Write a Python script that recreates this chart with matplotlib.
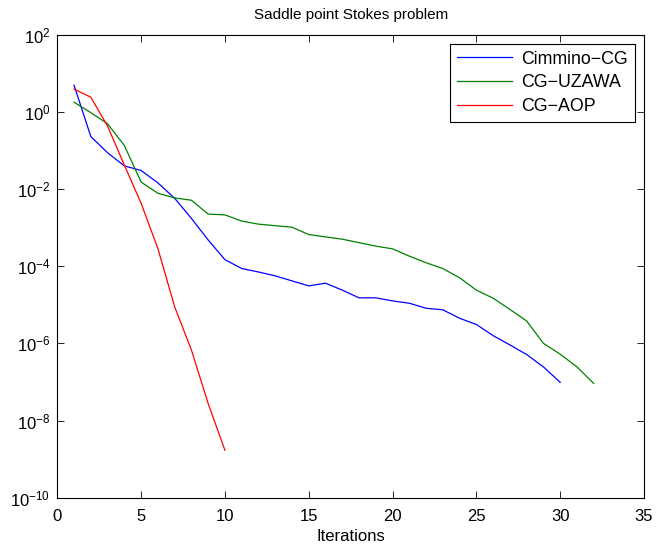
import matplotlib
matplotlib.use("Agg")
import matplotlib.pyplot as plt
import numpy as np

plt.rcParams['font.family'] = ['Liberation Sans', 'DejaVu Sans']
plt.rcParams['mathtext.fontset'] = 'custom'
plt.rcParams['mathtext.rm'] = 'Liberation Sans'
plt.rcParams['mathtext.it'] = 'Liberation Sans:italic'
plt.rcParams['mathtext.default'] = 'regular'

# log10 of residuals
cimmino_iter = list(range(1, 31))
cimmino_log = [0.69, -0.64, -1.06, -1.40, -1.52, -1.84, -2.24, -2.76, -3.32, -3.83,
               -4.06, -4.15, -4.25, -4.38, -4.51, -4.44, -4.62, -4.82, -4.82, -4.90,
               -4.96, -5.09, -5.13, -5.35, -5.51, -5.80, -6.04, -6.29, -6.61, -7.01]

uzawa_iter = list(range(1, 33))
uzawa_log = [0.25, -0.02, -0.31, -0.87, -1.82, -2.11, -2.23, -2.29, -2.65, -2.67,
             -2.83, -2.91, -2.95, -2.99, -3.18, -3.24, -3.30, -3.39, -3.48, -3.55,
             -3.74, -3.91, -4.06, -4.30, -4.62, -4.83, -5.12, -5.42, -6.00, -6.28,
             -6.61, -7.04]

aop_iter = list(range(1, 11))
aop_log = [0.59, 0.38, -0.37, -1.38, -2.37, -3.54, -5.05, -6.17, -7.56, -8.77]

labels = ['Cimmino\u2212CG', 'CG\u2212UZAWA', 'CG\u2212AOP']
colors = ['#0000ff', '#008000', '#ff0000']

fig = plt.figure(figsize=(6.57, 5.52), dpi=100)
ax = fig.add_axes([57.3/657, (552-497.7)/552, (644-57.3)/657, (497.7-34.7)/552])

series = [(cimmino_iter, cimmino_log), (uzawa_iter, uzawa_log), (aop_iter, aop_log)]
for (xs, ls), lab, c in zip(series, labels, colors):
    ax.semilogy(xs, 10.0**np.array(ls), color=c, lw=0.9, label=lab)

ax.set_xlim(0, 35)
ax.set_ylim(1e-10, 1e2)
ax.set_xticks(range(0, 36, 5))
ax.set_yticks([10.0**k for k in range(-10, 3, 2)])
ax.minorticks_off()
ax.tick_params(direction='in', top=True, right=True, labelsize=12, length=5, width=0.6)
ax.tick_params(axis='x', pad=8)
ax.tick_params(axis='y', pad=5)
for s in ax.spines.values():
    s.set_linewidth(0.8)

ax.set_title('Saddle point Stokes problem', fontsize=11, pad=11)
ax.set_xlabel('Iterations', fontsize=12, labelpad=4)

leg = ax.legend(loc='upper right', fontsize=12.8, fancybox=False, framealpha=1,
                edgecolor='black', handlelength=3.1, borderaxespad=0.5,
                labelspacing=0.38, borderpad=0.4, handletextpad=0.5)
leg.get_frame().set_linewidth(0.8)

fig.savefig('out.png', dpi=100)
